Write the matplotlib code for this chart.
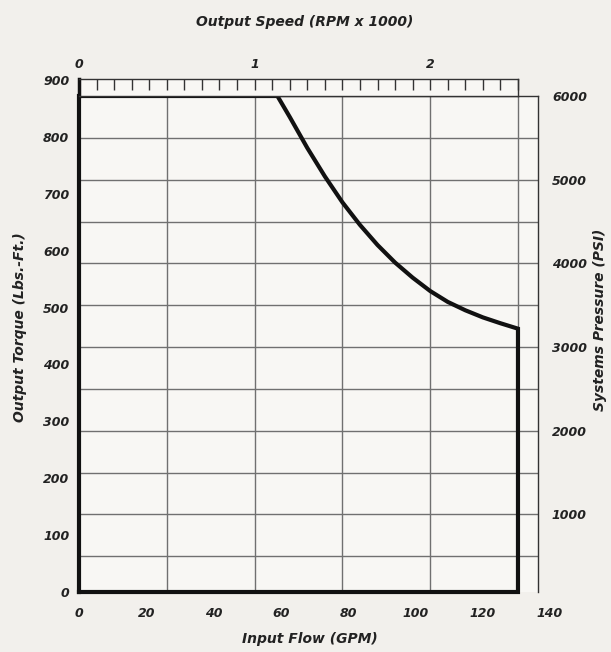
import numpy as np
import matplotlib
matplotlib.use("Agg")
import matplotlib.pyplot as plt

# performance envelope in (speed krpm, pressure psi)
speed = [0, 1.13, 1.2, 1.3, 1.4, 1.5, 1.6, 1.7, 1.8, 1.9, 2.0,
         2.1, 2.2, 2.3, 2.4, 2.5]
pressure = [6000, 6000, 5750, 5380, 5040, 4730, 4460, 4220, 4010, 3830,
            3670, 3540, 3440, 3355, 3285, 3220]

torque_ticks = [0, 100, 200, 300, 400, 500, 600, 700, 800, 900]
flow_ticks = [0, 20, 40, 60, 80, 100, 120, 140]
psi_ticks = [1000, 2000, 3000, 4000, 5000, 6000]
rpm_ticks = [0, 1, 2]

plt.rcParams['font.family'] = ['Liberation Sans Narrow', 'DejaVu Sans']
font = dict(fontweight='bold', fontstyle='italic', color='#222222')

W, H = 611, 652
fig = plt.figure(figsize=(W / 100, H / 100), dpi=100)
fig.patch.set_facecolor('#f2f0ec')


def box(x0, y0, x1, y1):
    # pixel box -> figure fraction rect
    return [x0 / W, 1 - y1 / H, (x1 - x0) / W, (y1 - y0) / H]


# main grid area (speed / pressure)
ax = fig.add_axes(box(79, 96, 538, 592))
ax.set_facecolor('#f8f7f4')
ax.set_xlim(0, 2.614)
ax.set_ylim(74, 6000)
ax.set_xticks(np.arange(0.5, 2.6, 0.5))
ax.set_yticks(np.arange(500, 6000, 500))
ax.grid(True, color='#707070', lw=1.0)
ax.tick_params(length=0, labelbottom=False, labelleft=False)
ax.spines['bottom'].set_visible(False)
for s in ['top', 'right', 'left']:
    ax.spines[s].set_color('#333333')
    ax.spines[s].set_linewidth(1.0)

bottom = ax.get_ylim()[0]
env_x = [speed[0]] + speed + [speed[-1], speed[0]]
env_y = [bottom] + pressure + [bottom, bottom]
ax.plot(env_x, env_y, color='#111111', lw=3, clip_on=False,
        solid_joinstyle='miter', zorder=5)

# right pressure labels
rax = ax.twinx()
rax.set_ylim(ax.get_ylim())
rax.set_yticks(psi_ticks)
rax.set_yticklabels([str(v) for v in psi_ticks], fontsize=9, **font)
rax.tick_params(length=0, pad=10)
for s in rax.spines.values():
    s.set_visible(False)

# top speed strip
tax = fig.add_axes(box(79, 79, 518, 96))
tax.set_facecolor('#f8f7f4')
tax.set_xlim(0, 2.5)
tax.set_ylim(0, 1)
tax.set_yticks([])
tax.xaxis.tick_top()
tax.set_xticks(rpm_ticks)
tax.set_xticklabels([str(v) for v in rpm_ticks], fontsize=9, **font)
tax.set_xticks(np.arange(0, 2.51, 0.1), minor=True)
tax.tick_params(axis='x', which='both', direction='in', length=8,
                width=1.0, color='#333333', pad=6)
for s in tax.spines.values():
    s.set_color('#333333')
    s.set_linewidth(1.0)
tax.spines['left'].set_linewidth(2.5)
tax.spines['left'].set_color('#111111')

# left torque labels
lax = fig.add_axes(box(79, 80, 538, 592))
lax.patch.set_visible(False)
lax.set_ylim(0, 900)
lax.set_yticks(torque_ticks)
lax.set_yticklabels([str(v) for v in torque_ticks], fontsize=9, **font)
lax.set_xticks([])
lax.tick_params(length=0, pad=7)
for s in lax.spines.values():
    s.set_visible(False)

# bottom flow labels
fax = fig.add_axes(box(79, 80, 560, 592))
fax.patch.set_visible(False)
fax.set_xlim(0, 143)
fax.set_xticks(flow_ticks)
fax.set_xticklabels([str(v) for v in flow_ticks], fontsize=9, **font)
fax.set_yticks([])
fax.tick_params(length=0, pad=11)
for s in fax.spines.values():
    s.set_visible(False)

fig.text(0.499, 0.966, 'Output Speed (RPM x 1000)', ha='center', va='center',
         fontsize=10, **font)
fig.text(0.507, 0.020, 'Input Flow (GPM)', ha='center', va='center',
         fontsize=10, **font)
fig.text(0.033, 0.498, 'Output Torque (Lbs.-Ft.)', ha='center', va='center',
         rotation=90, fontsize=10, **font)
fig.text(0.982, 0.509, 'Systems Pressure (PSI)', ha='center', va='center',
         rotation=90, fontsize=10, **font)

fig.savefig('out.png', dpi=100, facecolor=fig.get_facecolor())
